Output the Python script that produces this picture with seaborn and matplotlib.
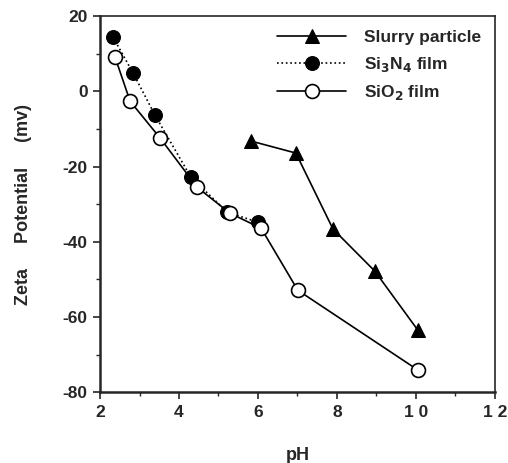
import numpy as np
import pandas as pd
import matplotlib
matplotlib.use("Agg")
import matplotlib.pyplot as plt
import seaborn as sns

# data
slurry_ph = [5.82, 6.96, 7.90, 8.96, 10.05]
slurry_zeta = [-13.2, -16.4, -36.6, -47.8, -63.5]

si3n4_ph = [2.33, 2.84, 3.39, 4.30, 5.22, 6.00]
si3n4_zeta = [14.4, 4.8, -6.3, -22.8, -32.1, -34.8]

sio2_ph = [2.38, 2.76, 3.52, 4.46, 5.29, 6.08, 7.01, 10.05]
sio2_zeta = [9.1, -2.6, -12.4, -25.5, -32.4, -36.4, -52.9, -74.1]

xticks = [2, 4, 6, 8, 10, 12]
xtick_labels = ["2", "4", "6", "8", "1 0", "1 2"]
yticks = [-80, -60, -40, -20, 0, 20]

sns.set_style("ticks")
plt.rcParams["font.family"] = ["Liberation Sans", "DejaVu Sans"]
plt.rcParams["font.weight"] = "bold"
plt.rcParams["axes.unicode_minus"] = False

fig = plt.figure(figsize=(5.08, 4.63), dpi=100)
ax = fig.add_axes([0.197, 0.153, 0.777, 0.812])

sns.lineplot(x=slurry_ph, y=slurry_zeta, ax=ax, color="black", lw=1.2,
             marker="^", markersize=10, markerfacecolor="black",
             markeredgecolor="black", label="Slurry particle")
sns.lineplot(x=si3n4_ph, y=si3n4_zeta, ax=ax, color="black", lw=1.2,
             linestyle=":", marker="o", markersize=10, markerfacecolor="black",
             markeredgecolor="black", label="Si$_3$N$_4$ film")
sns.lineplot(x=sio2_ph, y=sio2_zeta, ax=ax, color="black", lw=1.2,
             marker="o", markersize=10, markerfacecolor="white",
             markeredgecolor="black", markeredgewidth=1.2, label="SiO$_2$ film")

ax.set_xlim(2, 12)
ax.set_ylim(-80, 20)
ax.set_xticks(xticks)
ax.set_xticklabels(xtick_labels)
ax.set_yticks(yticks)
ax.set_xticks(np.arange(3, 12, 2), minor=True)
ax.set_yticks(np.arange(-70, 20, 20), minor=True)
ax.tick_params(axis="both", which="major", direction="out", length=5, width=1.2,
               labelsize=12.5, pad=4)
ax.tick_params(axis="both", which="minor", direction="out", length=3, width=1)
for lbl in ax.get_xticklabels() + ax.get_yticklabels():
    lbl.set_fontweight("bold")

for side in ["left", "bottom"]:
    ax.spines[side].set_linewidth(1.8)
for side in ["top", "right"]:
    ax.spines[side].set_visible(True)
    ax.spines[side].set_linewidth(1.2)

ax.set_xlabel("pH", fontsize=13, fontweight="bold", labelpad=20)
ax.set_ylabel("Zeta     Potential     (mv)", fontsize=13, fontweight="bold", labelpad=22)

leg = ax.legend(loc="upper right", bbox_to_anchor=(1.0, 1.0), frameon=False,
                fontsize=12.5, handlelength=4, handletextpad=1.0,
                borderaxespad=0.4, labelspacing=0.55)
for t in leg.get_texts():
    t.set_fontweight("bold")

fig.savefig("out.png", dpi=100)
